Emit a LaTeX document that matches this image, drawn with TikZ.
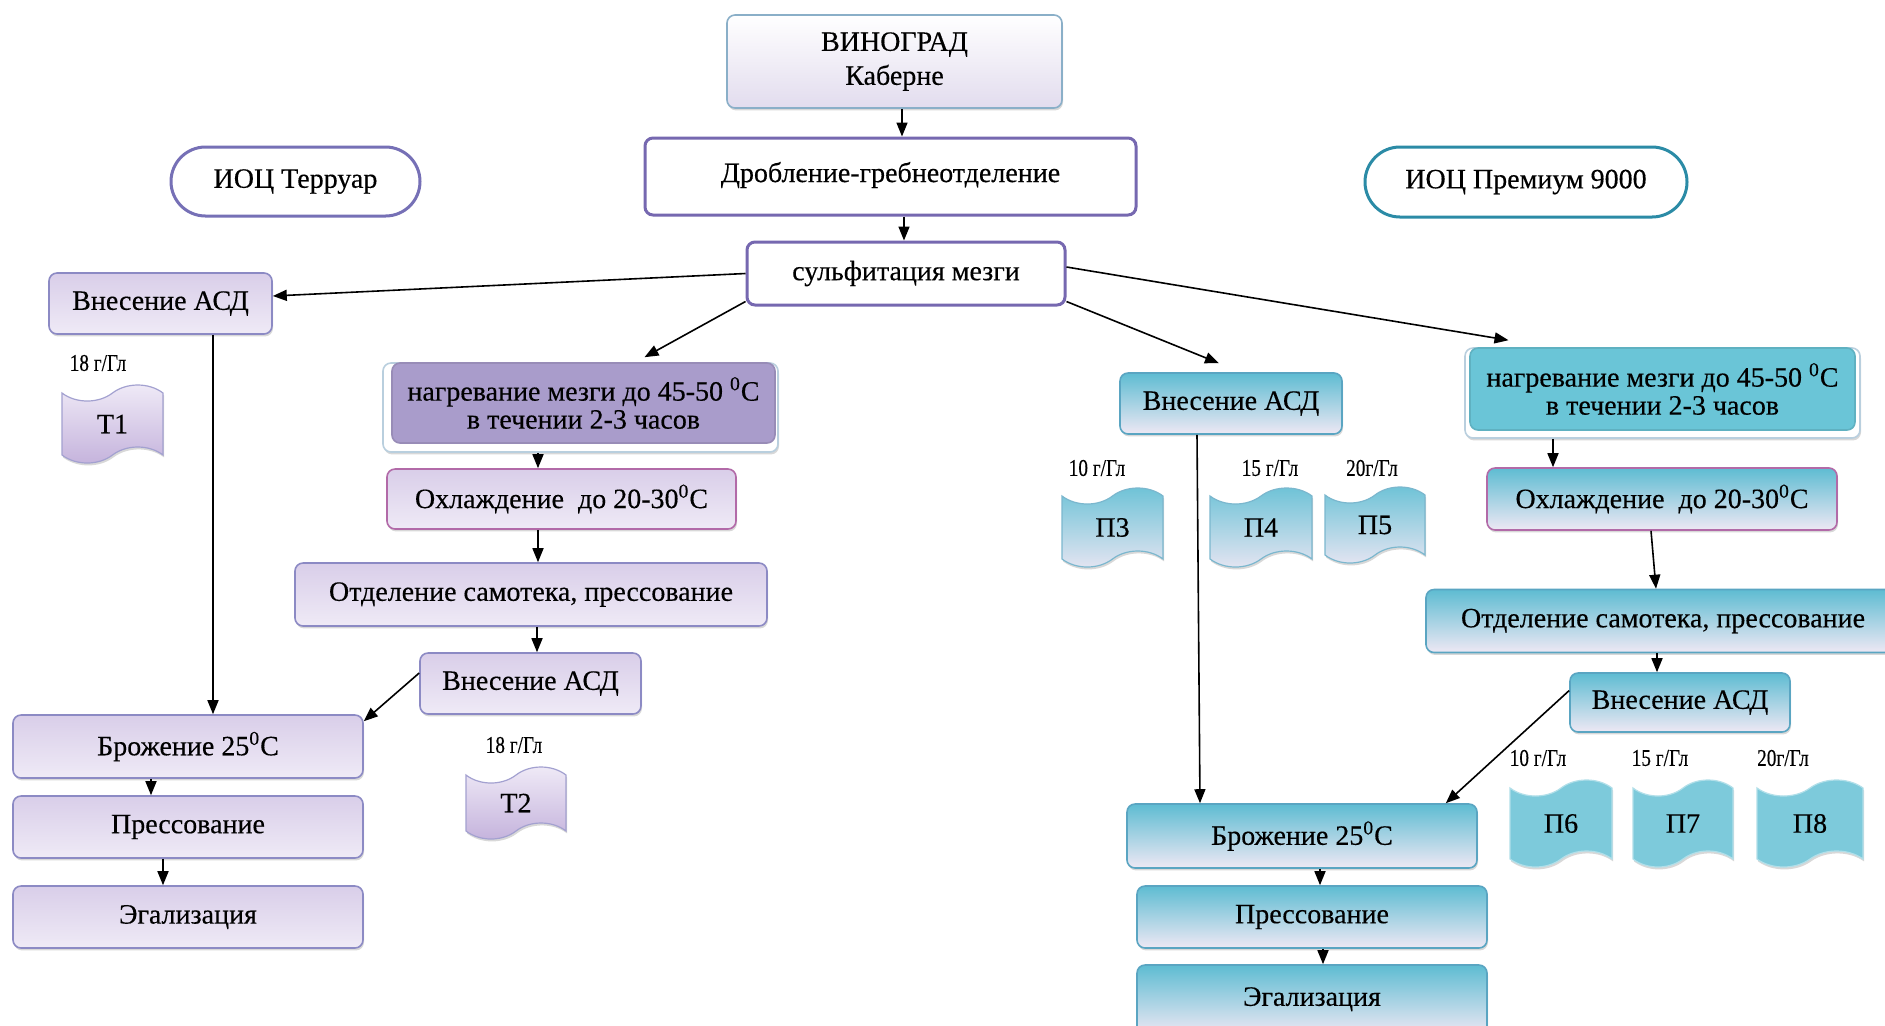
\documentclass[tikz,border=0pt]{standalone}
\usepackage{fontspec}
\usepackage{graphicx}
\setmainfont{Liberation Serif}[FakeBold=0.35]
\usetikzlibrary{arrows.meta,shapes.symbols,shapes.misc,shadows}
\definecolor{pborder}{HTML}{8C8AC4}
\definecolor{ptop}{HTML}{D9CEE9}
\definecolor{pbot}{HTML}{EFEAF6}
\definecolor{tborder}{HTML}{5AA5C2}
\definecolor{ttop}{HTML}{5EBCD2}
\definecolor{tbot}{HTML}{EEE8F4}
\definecolor{heatP}{HTML}{A99CCB}
\definecolor{heatT}{HTML}{6AC5D7}
\definecolor{coolc}{HTML}{B26AA8}
\definecolor{gborder}{HTML}{8AAFC8}
\definecolor{gbot}{HTML}{E2DCEE}
\definecolor{wborder}{HTML}{7668B0}
\definecolor{terrc}{HTML}{7670B6}
\definecolor{premc}{HTML}{2B8BA6}
\definecolor{flagtopP}{HTML}{F0EBF7}
\definecolor{flagbotP}{HTML}{C4B2DC}
\definecolor{flagtopT}{HTML}{6CC2D6}
\definecolor{flagbotT}{HTML}{E6E5F2}
\definecolor{flagT}{HTML}{7DCADB}
\begin{document}
\begin{tikzpicture}[x=0.5pt,y=-0.5pt,
  sz/.style 2 args={minimum width=#1*0.5pt, minimum height=#2*0.5pt},
  sh/.style={drop shadow={shadow xshift=0.5pt,shadow yshift=-1.2pt,opacity=0.3}},
  base/.style={rounded corners=4pt, align=center, inner sep=0pt, font=\fontsize{14}{14}\selectfont, line width=0.8pt},
  pbox/.style={base, sh, draw=pborder, top color=ptop, bottom color=pbot},
  tbox/.style={base, sh, draw=tborder, top color=ttop, bottom color=tbot},
  gbox/.style={base, sh, draw=gborder, top color=white, bottom color=gbot, font=\fontsize{14}{17}\selectfont},
  wbox/.style={base, draw=wborder, fill=white, line width=1.5pt},
  capsule/.style={rounded rectangle, align=center, inner sep=0pt, fill=white, line width=1.5pt, font=\fontsize{14}{14}\selectfont},
  bgbox/.style={base, sh, draw=#1, fill=white},
  heatp/.style={base, fill=heatP, draw=heatP!90!black},
  heatt/.style={base, fill=heatT, draw=heatT!90!black},
  flagbase/.style={tape, tape bend height=8pt, inner sep=0pt, line width=0.6pt, font=\fontsize{14}{14}\selectfont, sh},
  pflag/.style={flagbase, draw=pborder!80, top color=flagtopP, bottom color=flagbotP},
  tflag/.style={flagbase, draw=tborder!80, top color=flagtopT, bottom color=flagbotT},
  tflagB/.style={flagbase, draw=flagT!60!white, fill=flagT},
  lab/.style={inner sep=0pt, font=\fontsize{12}{12}\selectfont},
  arr/.style={-{Triangle[length=7pt,width=5.5pt]}, line width=0.8pt, black}
]
\path[use as bounding box] (0,0) rectangle (1885,1025);
\clip (0,0) rectangle (1885,1025);
\fill[white] (0,0) rectangle (1885,1025);

% top part
\node[gbox, sz={335}{93}] (grape) at (894.5,61.5) {ВИНОГРАД\\Каберне};
\node[wbox, sz={491}{77}] (drob) at (890.5,176.5) {\raisebox{4.5pt}{Дробление-гребнеотделение}};
\node[capsule, draw=terrc, sz={249}{69}] (terr) at (295.5,181.5) {ИОЦ Терруар};
\node[capsule, draw=premc, sz={322}{70}] (prem) at (1526,182) {ИОЦ Премиум 9000};
\node[wbox, sz={318}{63}] (sulf) at (906,273.5) {сульфитация мезги};

% left branch (Терруар)
\node[pbox, sz={223}{61}] (asdL) at (160.5,303.5) {Внесение АСД};
\node[lab] (l18a) at (98,363) {\scalebox{0.8}[1]{18 г/Гл}};
\node[pflag, sz={101}{78}] (T1) at (112.5,424) {Т1};

\node[bgbox=gborder!60, sz={395}{89}] (heatLbg) at (580.5,407.5) {};
\node[heatp, sz={383}{80}] (heatL) at (583.5,403) {нагревание мезги до 45-50 \textsuperscript{0}C\\в течении 2-3 часов};
\node[pbox, draw=coolc, sz={349}{60}] (coolL) at (561.5,499) {Охлаждение~ до 20-30\textsuperscript{0}C};
\node[pbox, sz={472}{63}] (sepL) at (531,594.5) {Отделение самотека, прессование};
\node[pbox, sz={221}{61}] (asdL2) at (530.5,683.5) {Внесение АСД};
\node[lab] (l18b) at (514,745) {\scalebox{0.8}[1]{18 г/Гл}};
\node[pflag, sz={100}{72}] (T2) at (516,803) {Т2};

\node[pbox, sz={350}{63}] (fermL) at (188,746.5) {Брожение 25\textsuperscript{0}C};
\node[pbox, sz={350}{62}] (pressL) at (188,827) {Прессование};
\node[pbox, sz={350}{62}] (egalL) at (188,917) {Эгализация};

% right branch (Премиум 9000)
\node[tbox, sz={222}{61}] (asdM) at (1231,403.5) {Внесение АСД};
\node[lab] (l10a) at (1097,468) {\scalebox{0.8}[1]{10 г/Гл}};
\node[lab] (l15a) at (1270,468) {\scalebox{0.8}[1]{15 г/Гл}};
\node[lab] (l20a) at (1372,468) {\scalebox{0.8}[1]{20г/Гл}};
\node[tflag, sz={101}{79}] (P3) at (1112.5,527.5) {П3};
\node[tflag, sz={102}{79}] (P4) at (1261,527.5) {П4};
\node[tflag, sz={100}{76}] (P5) at (1375,525) {П5};

\node[bgbox=gborder!60, sz={395}{90}] (heatRbg) at (1662.5,393) {};
\node[heatt, sz={385}{82}] (heatR) at (1662.5,389) {нагревание мезги до 45-50 \textsuperscript{0}C\\в течении 2-3 часов};
\node[tbox, draw=coolc, sz={350}{62}] (coolR) at (1662,499) {Охлаждение~ до 20-30\textsuperscript{0}C};
\node[tbox, sz={474}{63}] (sepR) at (1663,621) {Отделение самотека, прессование};
\node[tbox, sz={220}{59}] (asdR2) at (1680,702.5) {Внесение АСД};
\node[lab] (l10b) at (1538,758) {\scalebox{0.8}[1]{10 г/Гл}};
\node[lab] (l15b) at (1660,758) {\scalebox{0.8}[1]{15 г/Гл}};
\node[lab] (l20b) at (1783,758) {\scalebox{0.8}[1]{20г/Гл}};
\node[tflagB, sz={102}{87}] (P6) at (1561,823.5) {П6};
\node[tflagB, sz={100}{87}] (P7) at (1683,823.5) {П7};
\node[tflagB, sz={106}{87}] (P8) at (1810,823.5) {П8};

\node[tbox, sz={350}{64}] (fermR) at (1302,836) {Брожение 25\textsuperscript{0}C};
\node[tbox, sz={350}{62}] (pressR) at (1312,917) {Прессование};
\node[tbox, sz={350}{70}] (egalR) at (1312,1000) {\raisebox{3.5pt}{Эгализация}};

% connectors
\draw[arr] ([xshift=3.75pt]grape.south) -- ([xshift=3.75pt]grape.south |- drob.north);
\draw[arr] ([xshift=-1pt]sulf.north |- drob.south) -- ([xshift=-1pt]sulf.north);
\draw[arr] (sulf.west) -- ([yshift=3.75pt]asdL.east);
\draw[arr] ([yshift=2.5pt]sulf.south west) -- ([xshift=30.5pt,yshift=2.5pt]heatL.north);
\draw[arr] ([yshift=2.5pt]sulf.south east) -- ([xshift=-6pt,yshift=4.5pt]asdM.north);
\draw[arr] ([yshift=3.25pt]sulf.east) -- ([xshift=-77pt,yshift=3.5pt]heatR.north);

\draw[arr] ([xshift=26.25pt]asdL.south) -- ([xshift=26.25pt]asdL.south |- fermL.north);
\draw[arr] ([xshift=-11.75pt]coolL.north |- heatLbg.south) -- ([xshift=-11.75pt]coolL.north);
\draw[arr] ([xshift=-11.75pt]coolL.south) -- ([xshift=-11.75pt]coolL.south |- sepL.north);
\draw[arr] ([xshift=3pt]sepL.south) -- ([xshift=3pt]sepL.south |- asdL2.north);
\draw[arr] ([yshift=5.25pt]asdL2.west) -- ([yshift=-3.5pt]fermL.north east);
\draw[arr] ([xshift=-18.5pt]fermL.south) -- ([xshift=-18.5pt]fermL.south |- pressL.north);
\draw[arr] ([xshift=-12.5pt]pressL.south) -- ([xshift=-12.5pt]pressL.south |- egalL.north);

\draw[arr] ([xshift=-17pt]asdM.south) -- ([xshift=-51pt]fermR.north);
\draw[arr] ([xshift=-54.5pt]coolR.north |- heatRbg.south) -- ([xshift=-54.5pt]coolR.north);
\draw[arr] ([xshift=-5.5pt]coolR.south) -- ([xshift=-3.5pt]sepR.north);
\draw[arr] ([xshift=-11.5pt]asdR2.north |- sepR.south) -- ([xshift=-11.5pt]asdR2.north);
\draw[arr] ([yshift=6pt]asdR2.west) -- ([xshift=-16pt]fermR.north east);
\draw[arr] ([xshift=9pt]fermR.south) -- ([xshift=9pt]fermR.south |- pressR.north);
\draw[arr] ([xshift=5.5pt]pressR.south) -- ([xshift=5.5pt]pressR.south |- egalR.north);
\end{tikzpicture}
\end{document}
